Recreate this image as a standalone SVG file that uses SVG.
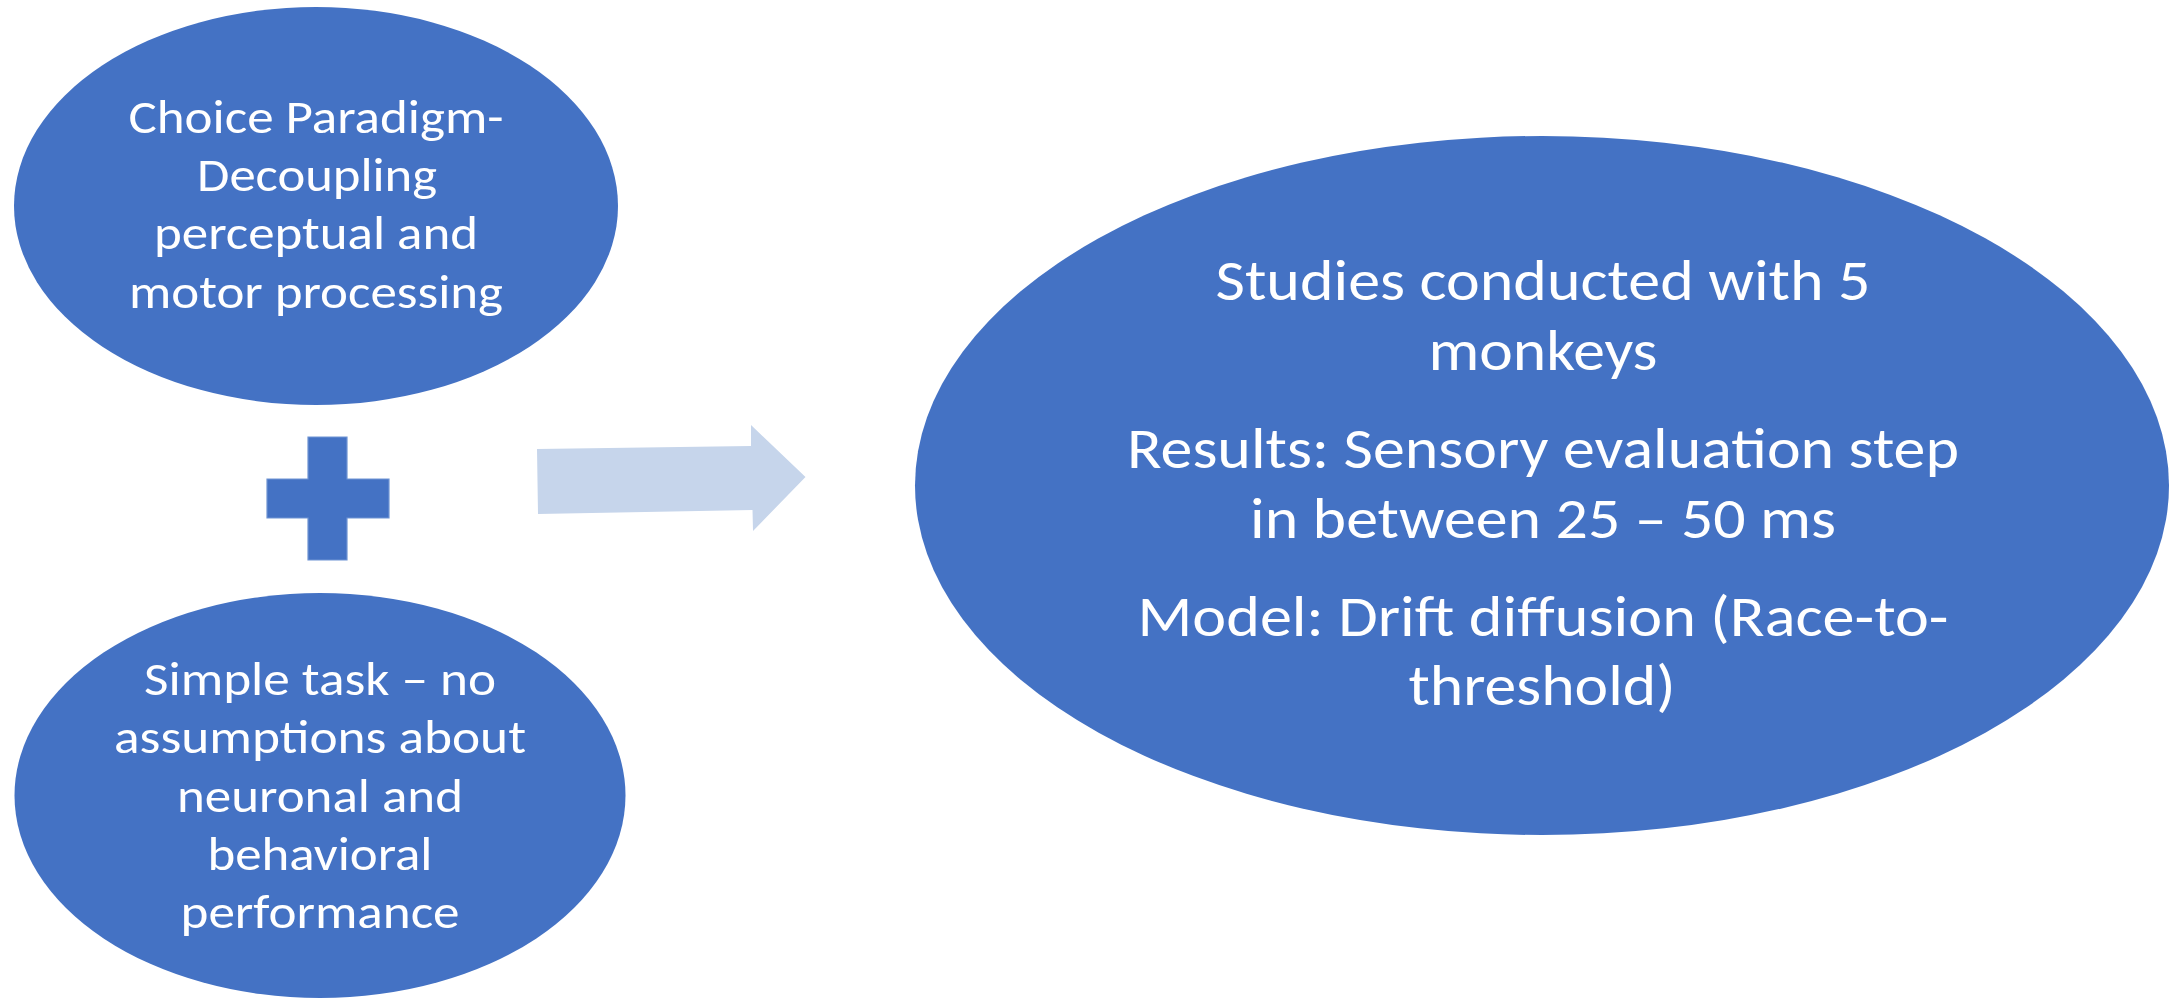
<svg xmlns="http://www.w3.org/2000/svg" width="2171" height="1000" viewBox="0 0 2171 1000">
  <style>
    .bubble { fill: #4472C4; }
    .label { fill: #FFFFFF; font-family: Carlito, Calibri, Lato, "Open Sans", sans-serif; text-anchor: middle; }
    .small { font-size: 48px; }
    .large { font-size: 57px; }
    .plus { fill: #4472C4; stroke: #6F94D3; stroke-width: 1.2; }
    .flow { fill: #C6D5EB; }
  </style>
  <rect x="0" y="0" width="2171" height="1000" fill="#FFFFFF"/>

  <!-- upper left: choice paradigm -->
  <g id="node-choice-paradigm">
    <ellipse class="bubble" cx="316" cy="206" rx="302" ry="199"/>
    <text class="label small" x="316" y="133" textLength="375" lengthAdjust="spacingAndGlyphs">Choice Paradigm-</text>
    <text class="label small" x="317" y="191" textLength="240" lengthAdjust="spacingAndGlyphs">Decoupling</text>
    <text class="label small" x="316" y="249" textLength="324" lengthAdjust="spacingAndGlyphs">perceptual and</text>
    <text class="label small" x="316" y="308" textLength="374" lengthAdjust="spacingAndGlyphs">motor processing</text>
  </g>

  <!-- plus sign between the two premises -->
  <g id="node-plus">
    <path class="plus" d="M308,437 H347 V479 H389 V518 H347 V560 H308 V518 H267 V479 H308 Z"/>
  </g>

  <!-- lower left: simple task -->
  <g id="node-simple-task">
    <ellipse class="bubble" cx="320" cy="795.5" rx="305.5" ry="202.5"/>
    <text class="label small" x="320" y="695" textLength="352" lengthAdjust="spacingAndGlyphs">Simple task – no</text>
    <text class="label small" x="320" y="753" textLength="412" lengthAdjust="spacingAndGlyphs">assumptions about</text>
    <text class="label small" x="320" y="812" textLength="286" lengthAdjust="spacingAndGlyphs">neuronal and</text>
    <text class="label small" x="320" y="870" textLength="225" lengthAdjust="spacingAndGlyphs">behavioral</text>
    <text class="label small" x="320" y="928" textLength="279" lengthAdjust="spacingAndGlyphs">performance</text>
  </g>

  <!-- right: studies and results -->
  <g id="node-results">
    <ellipse class="bubble" cx="1542" cy="485.5" rx="627" ry="349.5"/>
    <text class="label large" x="1543" y="300" textLength="655" lengthAdjust="spacingAndGlyphs">Studies conducted with 5</text>
    <text class="label large" x="1543" y="370" textLength="229" lengthAdjust="spacingAndGlyphs">monkeys</text>
    <text class="label large" x="1543" y="468" textLength="832" lengthAdjust="spacingAndGlyphs">Results: Sensory evaluation step</text>
    <text class="label large" x="1543" y="538" textLength="586" lengthAdjust="spacingAndGlyphs">in between 25 – 50 ms</text>
    <text class="label large" x="1543" y="636" textLength="811" lengthAdjust="spacingAndGlyphs">Model: Drift diffusion (Race-to-</text>
    <text class="label large" x="1542" y="705" textLength="267" lengthAdjust="spacingAndGlyphs">threshold)</text>
  </g>

  <!-- block arrow leading to the results -->
  <g id="connectors">
    <polygon class="flow" points="537,449 751,446 751,425 805.5,477 753,531 752.5,510 538,514"/>
  </g>
</svg>
